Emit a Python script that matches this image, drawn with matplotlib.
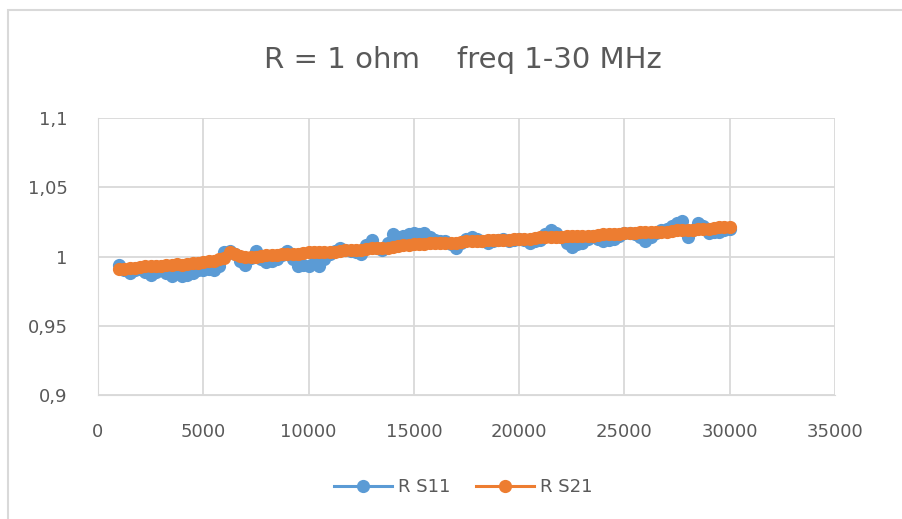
import matplotlib
matplotlib.use("Agg")
import matplotlib.pyplot as plt
from matplotlib.patches import Rectangle

# frequency in kHz, one sample every 250 kHz
freq = list(range(1000, 30001, 250))

r_s11 = [0.994, 0.990, 0.988, 0.990, 0.991, 0.989, 0.987, 0.989,
         0.990, 0.988, 0.986, 0.988, 0.986, 0.987, 0.988, 0.990,
         0.990, 0.991, 0.990, 0.993, 1.003, 1.004, 1.002, 0.997,
         0.994, 0.999, 1.004, 0.998, 0.996, 0.997, 0.998, 1.001,
         1.004, 0.998, 0.993, 0.994, 0.993, 0.995, 0.993, 0.998,
         1.002, 1.004, 1.006, 1.005, 1.004, 1.003, 1.002, 1.008,
         1.012, 1.006, 1.005, 1.010, 1.016, 1.014, 1.015, 1.016,
         1.017, 1.016, 1.017, 1.014, 1.012, 1.011, 1.011, 1.009,
         1.006, 1.010, 1.013, 1.014, 1.013, 1.011, 1.010, 1.011,
         1.012, 1.013, 1.011, 1.012, 1.013, 1.012, 1.010, 1.011,
         1.012, 1.016, 1.019, 1.017, 1.014, 1.010, 1.007, 1.009,
         1.010, 1.013, 1.015, 1.013, 1.011, 1.012, 1.013, 1.015,
         1.017, 1.017, 1.016, 1.014, 1.011, 1.014, 1.017, 1.019,
         1.020, 1.022, 1.024, 1.026, 1.014, 1.019, 1.024, 1.022,
         1.017, 1.018, 1.018, 1.019, 1.020]

r_s21 = [0.991, 0.991, 0.9915, 0.992, 0.9925, 0.993, 0.993, 0.9935,
         0.9935, 0.994, 0.994, 0.9945, 0.994, 0.9945, 0.995, 0.9955,
         0.996, 0.9965, 0.997, 0.998, 0.999, 1.003, 1.002, 1.0005,
         1.000, 1.000, 1.000, 1.0005, 1.001, 1.001, 1.001, 1.0015,
         1.002, 1.002, 1.002, 1.0025, 1.003, 1.003, 1.003, 1.003,
         1.003, 1.0035, 1.004, 1.0045, 1.005, 1.005, 1.005, 1.0055,
         1.006, 1.006, 1.006, 1.0065, 1.007, 1.0075, 1.008, 1.0085,
         1.009, 1.009, 1.009, 1.0095, 1.010, 1.010, 1.010, 1.010,
         1.010, 1.0105, 1.011, 1.011, 1.011, 1.0115, 1.012, 1.012,
         1.012, 1.012, 1.012, 1.0125, 1.013, 1.013, 1.013, 1.0135,
         1.014, 1.014, 1.014, 1.014, 1.014, 1.0145, 1.015, 1.015,
         1.015, 1.015, 1.015, 1.0155, 1.016, 1.016, 1.016, 1.0165,
         1.017, 1.017, 1.017, 1.0175, 1.018, 1.018, 1.018, 1.018,
         1.018, 1.0185, 1.019, 1.019, 1.019, 1.0195, 1.020, 1.020,
         1.020, 1.0205, 1.021, 1.021, 1.021]

x_ticks = [0, 5000, 10000, 15000, 20000, 25000, 30000, 35000]
y_ticks = [0.9, 0.95, 1.0, 1.05, 1.1]
y_labels = ["0,9", "0,95", "1", "1,05", "1,1"]

plt.rcParams["font.family"] = ["DejaVu Sans"]
txt = "#595959"
grid = "#d9d9d9"

fig = plt.figure(figsize=(9.03, 5.19), dpi=100)
ax = fig.add_axes([0.1085, 0.2389, 0.8162, 0.5337])

ax.plot(freq, r_s11, color="#5B9BD5", lw=2.2, marker="o", ms=9.5,
        markeredgewidth=0, label="R S11")
ax.plot(freq, r_s21, color="#ED7D31", lw=2.2, marker="o", ms=9.5,
        markeredgewidth=0, label="R S21")

ax.set_xlim(0, 35000)
ax.set_ylim(0.9, 1.1)
ax.set_xticks(x_ticks)
ax.set_xticklabels([str(t) for t in x_ticks])
ax.set_yticks(y_ticks)
ax.set_yticklabels(y_labels)
ax.tick_params(axis="x", length=0, labelsize=13, colors=txt, pad=20)
ax.tick_params(axis="y", length=0, labelsize=13, colors=txt, pad=22)
ax.grid(True, color=grid, lw=1.3)
ax.set_axisbelow(True)
for s in ax.spines.values():
    s.set_visible(False)
ax.spines["left"].set_visible(True)
ax.spines["bottom"].set_visible(True)
ax.spines["left"].set_color(grid)
ax.spines["bottom"].set_color(grid)

fig.text(0.513, 0.884, "R = 1 ohm    freq 1-30 MHz", ha="center", va="center",
         fontsize=21, color=txt)

fig.legend(loc="center", bbox_to_anchor=(0.513, 0.062), ncol=2, frameon=False,
           fontsize=13, labelcolor=txt, handlelength=3.2, columnspacing=1.4,
           handletextpad=0.35)

fig.patches.append(Rectangle((0.009, -0.05), 1.2, 1.031, transform=fig.transFigure,
                             fill=False, edgecolor=grid, lw=1.5))

fig.savefig("out.png", dpi=100)
